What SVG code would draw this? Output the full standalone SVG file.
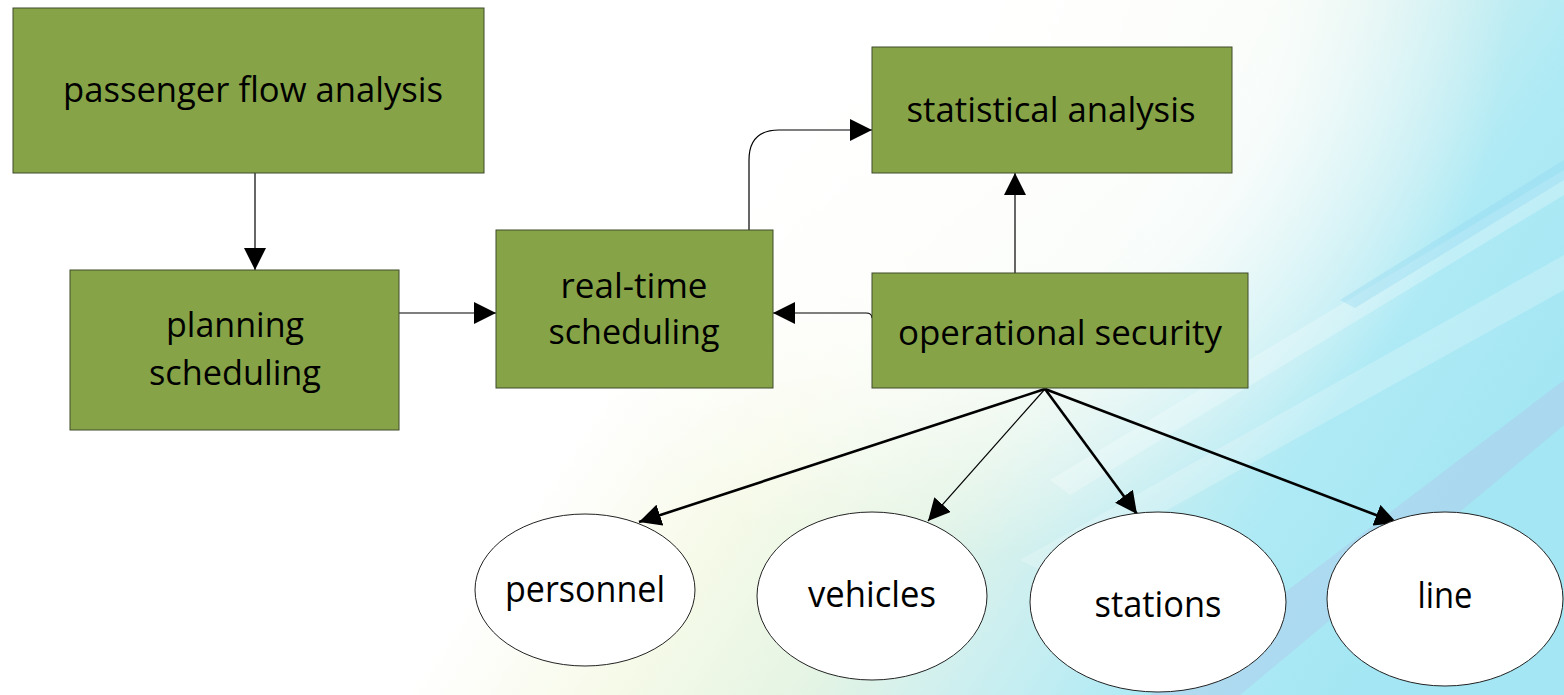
<svg xmlns="http://www.w3.org/2000/svg" width="1564" height="695" viewBox="0 0 1564 695">
<defs>
<linearGradient id="bg" gradientUnits="userSpaceOnUse" x1="720" y1="220" x2="1380" y2="660">
<stop offset="0" stop-color="#ffffff"/>
<stop offset="0.22" stop-color="#f6fae8"/>
<stop offset="0.42" stop-color="#e4f4e4"/>
<stop offset="0.58" stop-color="#cdeff0"/>
<stop offset="0.78" stop-color="#aeeaf5"/>
<stop offset="1" stop-color="#a4e6f3"/>
</linearGradient>
<radialGradient id="topfade" gradientUnits="userSpaceOnUse" cx="950" cy="0" r="560">
<stop offset="0" stop-color="#ffffff" stop-opacity="1"/>
<stop offset="0.6" stop-color="#ffffff" stop-opacity="0.8"/>
<stop offset="1" stop-color="#ffffff" stop-opacity="0"/>
</radialGradient>
<marker id="ah" viewBox="0 0 10 10" refX="10" refY="5" markerWidth="22" markerHeight="22" markerUnits="userSpaceOnUse" orient="auto">
<path d="M0,0 L10,5 L0,10 z" fill="#000"/>
</marker>
<style>
.box{fill:#86a447;stroke:#3f4a2a;stroke-width:1}
.ell{fill:#ffffff;stroke:#222;stroke-width:1}
.t{font-family:"Open Sans","Noto Sans",sans-serif;font-size:34px;fill:#000;text-anchor:middle}
.e{font-size:37px}
.c{fill:none;stroke:#000;stroke-width:1.2}
.ct{fill:none;stroke:#000;stroke-width:2.6}
</style>
</defs>
<g id="background">
<rect width="1564" height="695" fill="#ffffff"/>
<rect width="1564" height="695" fill="url(#bg)"/>
<rect width="1564" height="695" fill="url(#topfade)"/>
<polygon points="1150,695 1564,380 1564,425 1240,695" fill="#b7b0e2" opacity="0.25"/>
<polygon points="1050,480 1564,170 1564,195 1070,495" fill="#ffffff" opacity="0.25"/>
<polygon points="1020,560 1564,255 1564,290 1050,575" fill="#ffffff" opacity="0.22"/>
<polygon points="1340,300 1564,160 1564,180 1355,308" fill="#8fd8f0" opacity="0.35"/>
</g>
<g id="connectors">
<line class="c" x1="255" y1="173" x2="255" y2="270" marker-end="url(#ah)"/>
<line class="c" x1="397" y1="313" x2="496" y2="313" marker-end="url(#ah)"/>
<path class="c" d="M749,230 L749,160 Q749,130 779,130 L872,130" marker-end="url(#ah)"/>
<path class="c" d="M872,318 Q872,313 866,313 L773,313" marker-end="url(#ah)"/>
<line class="c" x1="1015" y1="273" x2="1015" y2="173" marker-end="url(#ah)"/>
<line class="ct" x1="1045" y1="389" x2="639" y2="522" marker-end="url(#ah)"/>
<line class="c" x1="1045" y1="389" x2="928" y2="521" marker-end="url(#ah)"/>
<line class="ct" x1="1045" y1="389" x2="1137" y2="514" marker-end="url(#ah)"/>
<line class="ct" x1="1045" y1="389" x2="1397" y2="523" marker-end="url(#ah)"/>
</g>
<g id="passenger-flow-analysis">
<rect class="box" x="13" y="8" width="471" height="165"/>
<text class="t" x="253" y="102" textLength="380" lengthAdjust="spacingAndGlyphs">passenger flow analysis</text>
</g>
<g id="planning-scheduling">
<rect class="box" x="70" y="270" width="329" height="160"/>
<text class="t" x="235" y="337" textLength="138" lengthAdjust="spacingAndGlyphs">planning</text>
<text class="t" x="235" y="385" textLength="172" lengthAdjust="spacingAndGlyphs">scheduling</text>
</g>
<g id="real-time-scheduling">
<rect class="box" x="496" y="230" width="277" height="158"/>
<text class="t" x="634" y="298" textLength="147" lengthAdjust="spacingAndGlyphs">real-time</text>
<text class="t" x="634" y="344" textLength="171" lengthAdjust="spacingAndGlyphs">scheduling</text>
</g>
<g id="statistical-analysis">
<rect class="box" x="872" y="47" width="360" height="126"/>
<text class="t" x="1051" y="122" textLength="289" lengthAdjust="spacingAndGlyphs">statistical analysis</text>
</g>
<g id="operational-security">
<rect class="box" x="872" y="273" width="376" height="115"/>
<text class="t" x="1060" y="345" textLength="324" lengthAdjust="spacingAndGlyphs">operational security</text>
</g>
<g id="personnel">
<ellipse class="ell" cx="585" cy="590" rx="110" ry="76"/>
<text class="t e" x="585" y="602" textLength="160" lengthAdjust="spacingAndGlyphs">personnel</text>
</g>
<g id="vehicles">
<ellipse class="ell" cx="872" cy="596" rx="115" ry="84"/>
<text class="t e" x="872" y="607" textLength="128" lengthAdjust="spacingAndGlyphs">vehicles</text>
</g>
<g id="stations">
<ellipse class="ell" cx="1158" cy="602" rx="128" ry="90"/>
<text class="t e" x="1158" y="617" textLength="127" lengthAdjust="spacingAndGlyphs">stations</text>
</g>
<g id="line">
<ellipse class="ell" cx="1445" cy="599" rx="118" ry="87"/>
<text class="t e" x="1445" y="608" textLength="55" lengthAdjust="spacingAndGlyphs">line</text>
</g>
</svg>
